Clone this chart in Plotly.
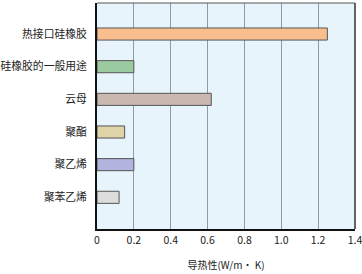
import plotly.graph_objects as go

categories = ["热接口硅橡胶", "硅橡胶的一般用途", "云母", "聚酯", "聚乙烯", "聚苯乙烯"]
values = [1.25, 0.2, 0.62, 0.15, 0.2, 0.12]
colors = ["#F8BE8E", "#9CCAA0", "#C8B8B0", "#DFD3A8", "#B3B3DF", "#DCDCDC"]
tick_vals = [0, 0.2, 0.4, 0.6, 0.8, 1.0, 1.2, 1.4]
tick_text = ["0", "0.2", "0.4", "0.6", "0.8", "1.0", "1.2", "1.4"]
x_title = "导热性(W/m· K)"

font_family = "Noto Sans CJK SC"

fig = go.Figure(go.Bar(
    y=categories, x=values, orientation="h",
    marker=dict(color=colors, line=dict(color="#555555", width=1)),
    width=0.37,
))

fig.update_layout(
    width=362, height=274,
    margin=dict(l=97, r=7, t=3, b=45),
    paper_bgcolor="white",
    plot_bgcolor="#E8F4FC",
    showlegend=False,
    font=dict(family=font_family, size=10, color="#222222"),
    xaxis=dict(
        range=[0, 1.4001], tickvals=tick_vals, ticktext=tick_text,
        showgrid=True, gridcolor="#8E9AA6", gridwidth=1,
        showline=True, linecolor="#111111", linewidth=2, mirror=False,
        zeroline=False, ticks="", ticklen=0,
        ticklabeloverflow="allow", automargin=False,
        title=dict(text=x_title, font=dict(size=10), standoff=16),
        tickfont=dict(size=10.5),
    ),
    yaxis=dict(
        categoryorder="array", categoryarray=categories,
        autorange=False, range=[5.97, -0.95],
        showgrid=False, showline=True, linecolor="#111111", linewidth=2,
        ticks="", ticklabelstandoff=6, automargin=False,
        tickfont=dict(size=10.8),
    ),
    shapes=[
        dict(type="line", xref="paper", yref="paper", x0=0, x1=1, y0=1, y1=1,
             line=dict(color="#555555", width=1)),
        dict(type="line", xref="paper", yref="paper", x0=1, x1=1, y0=0, y1=1,
             line=dict(color="#333333", width=1.5)),
    ],
)

fig.write_html("out.html")
